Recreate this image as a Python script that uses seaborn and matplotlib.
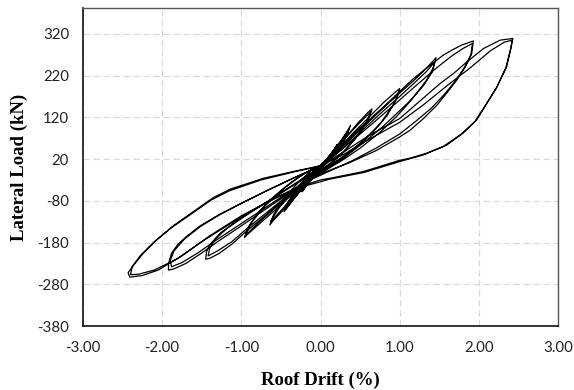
import numpy as np
import pandas as pd
import seaborn as sns
import matplotlib.pyplot as plt
from matplotlib.ticker import FormatStrFormatter, FixedLocator

# Cyclic test record: roof drift (%) and lateral load (kN), one list pair per drift level
drift_a = [0.00, 0.08, 0.16, 0.21, 0.17, 0.08, 0.00, -0.08, -0.17, -0.23, -0.19, -0.10, 0.00,
           0.09, 0.17, 0.20, 0.15, 0.06, -0.02, -0.10, -0.18, -0.22, -0.17, -0.07, 0.00,
           0.07, 0.14, 0.19, 0.14, 0.05, -0.04, -0.12, -0.20, -0.24, -0.18, -0.09, 0.00]
load_a = [0, 18, 40, 55, 38, 14, -2, -20, -42, -58, -40, -16, 3,
          22, 42, 50, 32, 10, -5, -24, -44, -54, -34, -8, 2,
          16, 34, 46, 28, 6, -10, -30, -48, -58, -36, -12, 1]

drift_b = [0.00, 0.12, 0.25, 0.33, 0.38, 0.34, 0.24, 0.12, 0.02, -0.08, -0.20, -0.33, -0.42, -0.46,
           -0.41, -0.28, -0.14, 0.00, 0.12, 0.24, 0.32, 0.36, 0.31, 0.20, 0.08, -0.04, -0.16, -0.30,
           -0.40, -0.44, -0.37, -0.22, -0.08, 0.00]
load_b = [2, 30, 62, 84, 101, 80, 48, 20, 0, -18, -44, -74, -96, -106,
          -82, -48, -18, 4, 28, 58, 80, 92, 68, 38, 10, -10, -34, -66,
          -90, -100, -72, -38, -10, 3]

drift_c = [0.00, 0.15, 0.32, 0.48, 0.60, 0.65, 0.60, 0.46, 0.30, 0.14, 0.00, -0.15, -0.32, -0.48,
           -0.60, -0.64, -0.59, -0.45, -0.28, -0.12, 0.00, 0.16, 0.34, 0.50, 0.62, 0.64, 0.57, 0.42,
           0.24, 0.08, -0.06, -0.22, -0.40, -0.55, -0.63, -0.62, -0.52, -0.34, -0.16, 0.00]
load_c = [3, 35, 72, 108, 132, 140, 115, 74, 38, 10, -8, -34, -70, -104,
          -128, -138, -112, -72, -36, -8, 4, 36, 76, 108, 130, 134, 104, 64,
          28, 4, -14, -44, -82, -114, -130, -126, -96, -56, -20, 3]

drift_d = [0.00, 0.20, 0.42, 0.62, 0.80, 0.93, 1.00, 0.96, 0.84, 0.66, 0.44, 0.22, 0.02, -0.18,
           -0.40, -0.62, -0.80, -0.92, -0.96, -0.91, -0.78, -0.58, -0.36, -0.16, 0.00, 0.22, 0.45,
           0.66, 0.84, 0.96, 0.99, 0.92, 0.76, 0.54, 0.30, 0.08, -0.12, -0.34, -0.58, -0.78, -0.90,
           -0.95, -0.88, -0.70, -0.46, -0.22, 0.00]
load_d = [3, 40, 84, 122, 156, 178, 189, 164, 124, 84, 46, 16, -8, -34,
          -72, -110, -140, -160, -168, -142, -106, -68, -34, -10, 5, 42, 86,
          122, 152, 172, 180, 150, 106, 64, 28, 0, -22, -56, -98, -132, -154,
          -165, -134, -92, -50, -16, 4]

drift_e = [0.00, 0.25, 0.50, 0.75, 1.00, 1.20, 1.35, 1.46, 1.43, 1.34, 1.21, 1.09, 0.95, 0.75,
           0.50, 0.25, 0.05, -0.15, -0.40, -0.65, -0.93, -1.12, -1.28, -1.40, -1.45, -1.44, -1.40,
           -1.27, -1.10, -0.85, -0.60, -0.35, -0.12, 0.00,
           0.25, 0.50, 0.75, 1.00, 1.20, 1.35, 1.44, 1.41, 1.30, 1.15, 1.00, 0.80, 0.55, 0.30,
           0.08, -0.12, -0.38, -0.64, -0.92, -1.12, -1.30, -1.40, -1.42, -1.40, -1.33, -1.18,
           -0.98, -0.72, -0.45, -0.20, 0.00]
load_e = [4, 45, 90, 135, 178, 212, 240, 263, 241, 209, 177, 149, 120, 84,
          46, 14, -8, -30, -68, -108, -152, -184, -206, -218, -220, -202, -186,
          -158, -134, -102, -74, -44, -16, 2,
          40, 84, 128, 170, 205, 232, 252, 228, 196, 163, 136, 100, 60, 24,
          -4, -26, -62, -102, -145, -178, -200, -210, -212, -194, -172, -146,
          -120, -88, -54, -24, 2]

drift_f = [0.00, 0.30, 0.60, 0.88, 1.00, 1.17, 1.34, 1.47, 1.55, 1.66, 1.78, 1.93, 1.91, 1.83,
           1.72, 1.59, 1.47, 1.30, 1.13, 1.00, 0.70, 0.35, 0.00, -0.30, -0.60, -1.00, -1.30,
           -1.50, -1.70, -1.85, -1.92, -1.92, -1.88, -1.80, -1.69, -1.52, -1.27, -1.02, -0.70,
           -0.35, 0.00,
           0.30, 0.60, 0.90, 1.20, 1.45, 1.65, 1.80, 1.92, 1.90, 1.82, 1.70, 1.55, 1.40, 1.20,
           1.00, 0.70, 0.40, 0.10, -0.20, -0.55, -0.95, -1.30, -1.55, -1.75, -1.88, -1.90, -1.85,
           -1.72, -1.52, -1.28, -1.00, -0.66, -0.30, 0.00]
load_f = [2, 55, 108, 160, 182, 212, 238, 257, 269, 281, 293, 303, 273, 241,
          209, 177, 149, 117, 89, 73, 40, 10, -15, -50, -88, -140, -178,
          -205, -230, -243, -246, -230, -205, -184, -165, -140, -112, -88, -58,
          -26, 3,
          48, 96, 145, 195, 236, 266, 285, 297, 270, 240, 206, 172, 142, 110,
          80, 46, 16, -10, -36, -78, -128, -172, -205, -228, -238, -224, -200,
          -172, -142, -114, -86, -54, -22, 4]

drift_g = [0.00, 0.30, 0.60, 1.00, 1.17, 1.34, 1.51, 1.68, 1.85, 2.06, 2.27, 2.43, 2.41, 2.35,
           2.23, 2.10, 1.97, 1.80, 1.59, 1.34, 1.13, 1.00, 0.54, 0.12, 0.00, -0.30, -0.60, -1.00,
           -1.40, -1.75, -2.05, -2.25, -2.41, -2.43, -2.36, -2.24, -2.07, -1.86, -1.60, -1.35,
           -1.14, -0.72, -0.30, 0.00,
           0.30, 0.60, 1.00, 1.30, 1.60, 1.90, 2.15, 2.32, 2.42, 2.40, 2.34, 2.22, 2.08, 1.95,
           1.78, 1.55, 1.30, 1.00, 0.55, 0.12, -0.30, -0.70, -1.10, -1.50, -1.82, -2.10, -2.30,
           -2.40, -2.38, -2.27, -2.10, -1.88, -1.62, -1.38, -1.15, -0.75, -0.32, 0.00]
load_g = [4, 38, 75, 117, 145, 173, 201, 225, 253, 285, 305, 309, 290, 241,
          193, 153, 113, 82, 53, 34, 22, 17, -10, -26, -30, -48, -76, -116,
          -164, -212, -246, -259, -263, -252, -234, -206, -174, -140, -105, -72,
          -52, -26, -8, 4,
          32, 66, 108, 150, 196, 240, 280, 300, 305, 282, 238, 190, 148, 110,
          80, 50, 30, 14, -12, -28, -50, -86, -130, -178, -220, -246, -256,
          -257, -238, -210, -178, -144, -110, -78, -56, -30, -10, 3]

drift_levels = [drift_a, drift_b, drift_c, drift_d, drift_e, drift_f, drift_g]
load_levels = [load_a, load_b, load_c, load_d, load_e, load_f, load_g]

drift = [v for lvl in drift_levels for v in lvl]
load = [v for lvl in load_levels for v in lvl]
record = pd.DataFrame({"drift": drift, "load": load})

x_ticks = [-3, -2, -1, 0, 1, 2, 3]
y_ticks = [-380, -280, -180, -80, 20, 120, 220, 320]

sns.set_theme(style="white")
plt.rcParams["font.family"] = ["Lato", "DejaVu Sans"]

fig = plt.figure(figsize=(5.74, 3.90), dpi=100)
ax = fig.add_axes([83 / 574, 64 / 390, 475 / 574, 318 / 390])

sns.lineplot(data=record, x="drift", y="load", sort=False, estimator=None,
             color="black", linewidth=0.9, ax=ax)

ax.set_xlim(-3, 3)
ax.set_ylim(-380, 382)
ax.xaxis.set_major_locator(FixedLocator(x_ticks))
ax.yaxis.set_major_locator(FixedLocator(y_ticks))
ax.xaxis.set_major_formatter(FormatStrFormatter("%.2f"))
ax.yaxis.set_major_formatter(FormatStrFormatter("%d"))
ax.grid(True, linestyle=(0, (5, 3)), color="#d9d9d9", linewidth=0.9)
ax.set_axisbelow(True)
ax.tick_params(axis="both", length=0, labelsize=10.8, colors="#222222")
ax.tick_params(axis="x", pad=11)
ax.tick_params(axis="y", pad=10)

for side in ["left", "bottom"]:
    ax.spines[side].set_color("#111111")
    ax.spines[side].set_linewidth(1.2)
for side in ["top", "right"]:
    ax.spines[side].set_color("#555555")
    ax.spines[side].set_linewidth(1.0)

label_font = dict(family=["Liberation Serif"], weight="bold", size=13.5, color="black")
ax.set_xlabel("Roof Drift (%)", **label_font)
ax.set_ylabel("Lateral Load (kN)", **label_font)
ax.xaxis.set_label_coords(0.5, -0.145)
ax.yaxis.set_label_coords(-0.116, 0.5)

fig.savefig("out.png", dpi=100, facecolor="white")
